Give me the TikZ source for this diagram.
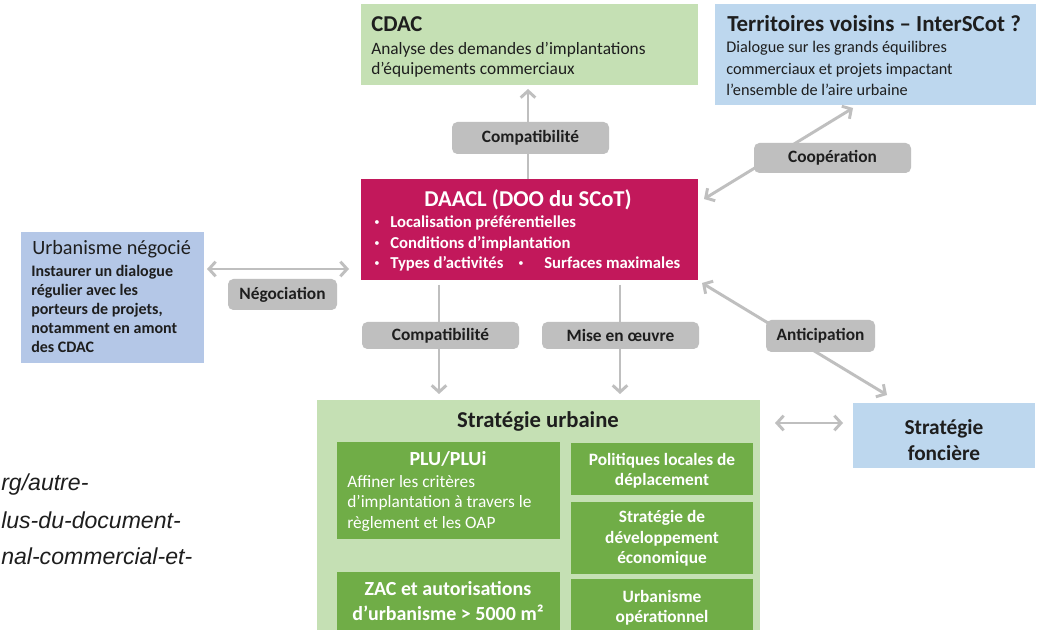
\documentclass[tikz,border=0pt]{standalone}
\usepackage{fontspec}
\setmainfont{Carlito}
\newfontfamily\urlfont{Liberation Sans}
\usetikzlibrary{arrows.meta,calc}
\definecolor{lgreen}{HTML}{C5E0B4}
\definecolor{dgreen}{HTML}{70AD47}
\definecolor{lblue}{HTML}{BDD7EE}
\definecolor{pblue}{HTML}{B4C7E7}
\definecolor{crim}{HTML}{C2185B}
\definecolor{lgray}{HTML}{BFBFBF}
\definecolor{txt}{HTML}{1E1E1E}
\newcommand{\fs}[1]{\fontsize{#1}{#1}\selectfont}
\begin{document}
\begin{tikzpicture}[x=0.75pt,y=-0.75pt,
  sz/.style 2 args={minimum width=#1*0.75pt, minimum height=#2*0.75pt},
  box/.style={draw=none, anchor=north west, inner sep=0pt, outer sep=0pt},
  lbl/.style={fill=lgray, rounded corners=4pt, inner sep=0pt, text=txt, font=\bfseries\fs{13}},
  tx/.style={anchor=base west, inner sep=0pt, text=txt},
  tc/.style={anchor=base, inner sep=0pt, text=txt},
  bul/.style={anchor=base west, inner sep=0pt, text=white, font=\fs{8}},
  conn/.style={draw=lgray, line width=2.2pt, -{Straight Barb[length=5pt,width=11pt]}},
  dconn/.style={draw=lgray, line width=2.2pt, {Straight Barb[length=5pt,width=11pt]}-{Straight Barb[length=5pt,width=11pt]}}
]
\clip (0,0) rectangle (1045,630);
\fill[white] (0,0) rectangle (1045,630);

% boxes
\node[box, fill=lgreen, sz={337}{81}] (cdac) at (361,4) {};
\node[box, fill=lblue, sz={321}{101}] (terr) at (715,4) {};
\node[box, fill=crim, sz={337}{101}] (daacl) at (361,179) {};
\node[box, fill=pblue, sz={183}{131}] (urb) at (21,232) {};
\node[box, fill=lgreen, sz={443}{250}] (su) at (317,400) {};
\node[box, fill=dgreen, sz={223}{97}] (plu) at (337,442) {};
\node[box, fill=dgreen, sz={223}{70}] (zac) at (337,572) {};
\node[box, fill=dgreen, sz={182}{52}] (pol) at (571,443) {};
\node[box, fill=dgreen, sz={182}{72}] (dev) at (571,502) {};
\node[box, fill=dgreen, sz={182}{62}] (uop) at (571,579) {};
\node[box, fill=lblue, sz={182}{65}] (fon) at (853,403) {};

% connectors
\draw[conn, shorten >=3pt] (daacl.north -| 528,0) -- (cdac.south -| 528,0);
\draw[dconn] ($(daacl.north east)+(6,20)$) -- ($(terr.south west)+(138,3)$);
\draw[dconn] ($(urb.north east)+(3,37)$) -- ($(daacl.south west)+(-12,-11)$);
\draw[conn] ($(daacl.south west)+(78,5)$) -- ($(su.north west)+(122,-6)$);
\draw[conn] ($(daacl.south west)+(259,5)$) -- ($(su.north west)+(303,-6)$);
\draw[dconn] ($(daacl.south east)+(4,3)$) -- ($(fon.north west)+(34,-8)$);
\draw[dconn] ($(su.north east)+(15,23)$) -- ($(fon.north west)+(-10,20)$);

% labels
\node[lbl, sz={157}{32}] (l1) at (530.5,138) {Compatibilité};
\node[lbl, sz={157}{30}] (l2) at (832.5,158) {Coopération};
\node[lbl, sz={109}{31}] (l3) at (282.5,294.5) {Négociation};
\node[lbl, sz={157}{27}] (l4) at (440.5,335.5) {Compatibilité};
\node[lbl, sz={157}{27}] (l5) at (620.5,335.5) {Mise en œuvre};
\node[lbl, sz={109}{32}] (l6) at (820.5,336) {Anticipation};

% CDAC
\node[tx, font=\bfseries\fs{17}] (t1) at (371,32) {CDAC};
\node[tx, font=\fs{13}] (t2) at (371,55) {Analyse des demandes d’implantations};
\node[tx, font=\fs{13}] (t3) at (371,75) {d’équipements commerciaux};

% Territoires
\node[tx, font=\bfseries\fs{17.2}] (t4) at (727,32) {Territoires voisins – InterSCot ?};
\node[tx, font=\fs{12.2}] (t5) at (726,53) {Dialogue sur les grands équilibres};
\node[tx, font=\fs{12.2}] (t6) at (726,75) {commerciaux et projets impactant};
\node[tx, font=\fs{12.2}] (t7) at (726,96) {l’ensemble de l’aire urbaine};

% DAACL
\node[tc, text=white, font=\bfseries\fs{17}] (d0) at (528,207) {DAACL (DOO du SCoT)};
\node[bul] (b1) at (374,226) {•};
\node[bul] (b2) at (374,247) {•};
\node[bul] (b3) at (374,267) {•};
\node[bul] (b4) at (518,267) {•};
\begin{scope}[every node/.style={tx, text=white, font=\bfseries\fs{12.5}}]
\node (d1) at (390,228) {Localisation préférentielles};
\node (d2) at (390,249) {Conditions d’implantation};
\node (d3) at (390,269) {Types d’activités};
\node (d4) at (544,269) {Surfaces maximales};
\end{scope}

% Urbanisme negocie
\node[tx, font=\fs{15.2}] (u0) at (32,255) {Urbanisme négocié};
\begin{scope}[every node/.style={tx, font=\bfseries\fs{12}}]
\node (u1) at (31,277) {Instaurer un dialogue};
\node (u2) at (31,296) {régulier avec les};
\node (u3) at (31,315) {porteurs de projets,};
\node (u4) at (31,334) {notamment en amont};
\node (u5) at (31,353) {des CDAC};
\end{scope}

% Strategie urbaine
\node[tc, font=\bfseries\fs{17}] (s0) at (538,427) {Stratégie urbaine};
\node[tc, text=white, font=\bfseries\fs{15}] (p0) at (448,465) {PLU/PLUi};
\begin{scope}[every node/.style={tx, text=white, font=\fs{13}}]
\node (p1) at (347,487) {Affiner les critères};
\node (p2) at (347,507) {d’implantation à travers le};
\node (p3) at (347,528) {règlement et les OAP};
\end{scope}
\node[tc, text=white, font=\bfseries\fs{15}] (z1) at (448,595) {ZAC et autorisations};
\node[tc, text=white, font=\bfseries\fs{15}] (z2) at (448,620) {d’urbanisme > 5000 m²};
\begin{scope}[every node/.style={tc, text=white, font=\bfseries\fs{13}}]
\node (q1) at (662,465) {Politiques locales de};
\node (q2) at (662,485) {déplacement};
\node (q3) at (662,522) {Stratégie de};
\node (q4) at (662,543) {développement};
\node (q5) at (662,563) {économique};
\node (q6) at (662,602) {Urbanisme};
\node (q7) at (662,622) {opérationnel};
\end{scope}

% Strategie fonciere
\node[tc, font=\bfseries\fs{16}] (f1) at (944,435) {Stratégie};
\node[tc, font=\bfseries\fs{16}] (f2) at (944,460) {foncière};

% cut url text
\begin{scope}[every node/.style={anchor=base west, inner sep=0pt, text=txt, font=\urlfont\itshape\fs{17.3}}]
\node (w1) at (1,490) {rg/autre-};
\node (w2) at (1,528) {lus-du-document-};
\node (w3) at (1,564) {nal-commercial-et-};
\end{scope}
\end{tikzpicture}
\end{document}
